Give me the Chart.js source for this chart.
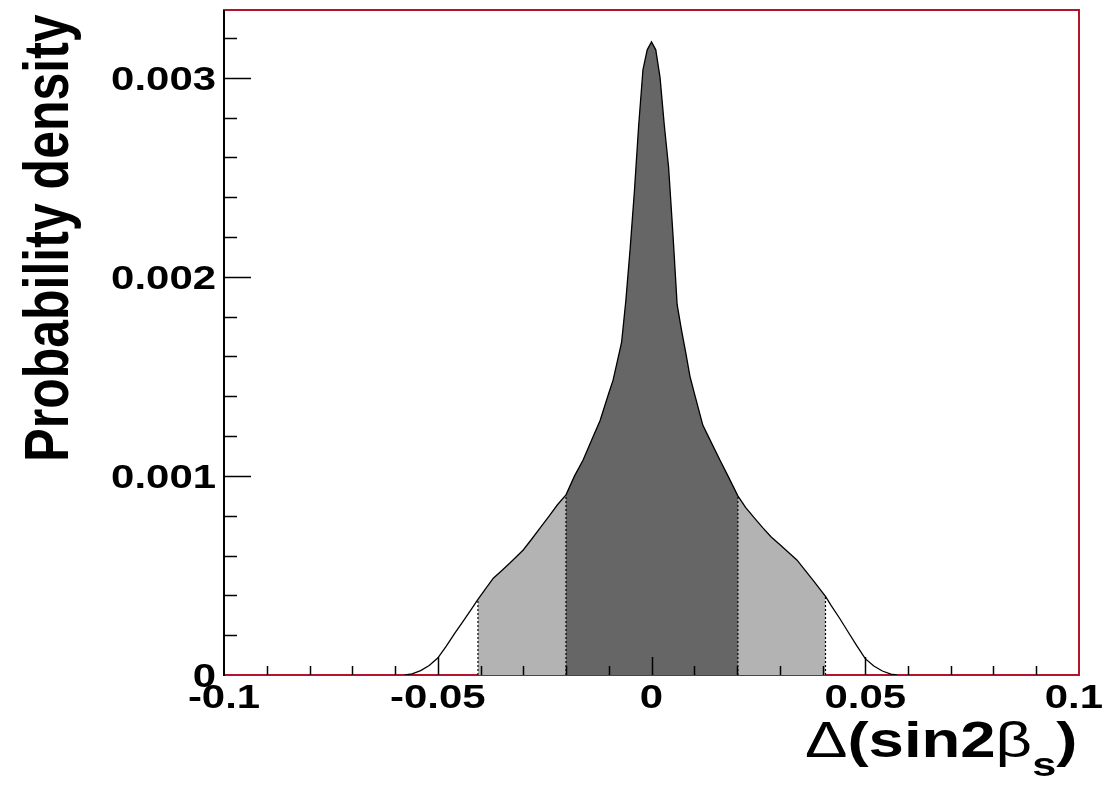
<!DOCTYPE html>
<html lang="en">
<head>
<meta charset="UTF-8" />
<title>Probability density of Δ(sin2βs)</title>
<script src="https://cdn.jsdelivr.net/npm/chart.js"></script>
<style>
  body { margin: 0; background: #ffffff; }
  #wrap { width: 1111px; height: 791px; }
</style>
</head>
<body>
<div id="wrap"><canvas id="pdf" width="1111" height="791"></canvas></div>
<script>
// curve: x = Δ(sin2βs), density in units of 1e-3
const deltaX = [
  -0.0577, -0.056, -0.054, -0.052, -0.050, -0.048, -0.046, -0.044, -0.042, -0.0406,
  -0.039, -0.037, -0.035, -0.033, -0.030, -0.028, -0.026, -0.024, -0.022, -0.020,
  -0.018, -0.016, -0.014, -0.012, -0.010, -0.009, -0.008, -0.007, -0.006, -0.005,
  -0.004, -0.003, -0.002, -0.001, 0, 0.001, 0.002, 0.003, 0.004, 0.005,
  0.006, 0.007, 0.008, 0.009, 0.010, 0.012, 0.014, 0.016, 0.018, 0.0202,
  0.022, 0.024, 0.026, 0.028, 0.030, 0.032, 0.034, 0.036, 0.038, 0.0407,
  0.042, 0.044, 0.046, 0.048, 0.050, 0.052, 0.054, 0.056, 0.0574
];
const density = [
  0, 0.006, 0.022, 0.048, 0.085, 0.145, 0.21, 0.272, 0.335, 0.38,
  0.427, 0.486, 0.525, 0.565, 0.628, 0.683, 0.74, 0.797, 0.855, 0.905,
  1.0, 1.08, 1.18, 1.28, 1.415, 1.48, 1.575, 1.67, 1.88, 2.14,
  2.43, 2.76, 3.04, 3.14, 3.18, 3.14, 3.0, 2.76, 2.55, 2.22,
  1.86, 1.735, 1.62, 1.5, 1.417, 1.255, 1.167, 1.08, 0.995, 0.9,
  0.842, 0.79, 0.74, 0.693, 0.655, 0.617, 0.578, 0.524, 0.47, 0.395,
  0.35, 0.285, 0.216, 0.148, 0.082, 0.045, 0.02, 0.004, 0
];

// shaded intervals (dark inner band, light outer band)
const innerBand = [-0.020, 0.0202];
const outerBand = [-0.0406, 0.0407];

const xTicks = [-0.1, -0.05, 0, 0.05, 0.1];
const xTickLabels = ['-0.1', '-0.05', '0', '0.05', '0.1'];
const yTicks = [0, 1, 2, 3];
const yTickLabels = ['0', '0.001', '0.002', '0.003'];

const points = deltaX.map((x, i) => ({ x: x, y: density[i] }));
function band(lo, hi) {
  return points.filter(p => p.x >= lo - 1e-9 && p.x <= hi + 1e-9);
}
function edge(x) {
  return [{ x: x, y: 0 }, { x: x, y: density[deltaX.indexOf(x)] }];
}

const FONT = '"Liberation Sans", Arial, Helvetica, sans-serif';
const STRETCH = 1.27; // the original picture is wider than tall

// ROOT-like frame: ticks inside, bold labels
const rootFrame = {
  id: 'rootFrame',
  beforeDatasetsDraw(chart) {
    const { ctx, chartArea: a } = chart;
    ctx.save();
    ctx.strokeStyle = '#b5132c';
    ctx.lineWidth = 2;
    ctx.strokeRect(a.left, a.top, a.right - a.left, a.bottom - a.top);
    ctx.restore();
  },
  afterDatasetsDraw(chart) {
    const { ctx, chartArea: a, scales } = chart;
    const xs = scales.x, ys = scales.y;
    ctx.save();
    ctx.strokeStyle = '#000';
    ctx.lineWidth = 2;
    ctx.beginPath();
    ctx.moveTo(a.left, a.top);
    ctx.lineTo(a.left, a.bottom + 1);
    ctx.stroke();

    // x ticks, minor every 0.01
    ctx.lineWidth = 1.5;
    for (let i = -9; i <= 9; i++) {
      const px = Math.round(xs.getPixelForValue(i / 100)) + 0.5;
      const len = i % 5 === 0 ? 18 : 9;
      ctx.beginPath();
      ctx.moveTo(px, a.bottom);
      ctx.lineTo(px, a.bottom - len);
      ctx.stroke();
    }
    // y ticks, minor every 0.0002
    for (let j = 1; j * 0.2 <= ys.max; j++) {
      const py = Math.round(ys.getPixelForValue(j * 0.2)) + 0.5;
      const len = j % 5 === 0 ? 27 : 13;
      ctx.beginPath();
      ctx.moveTo(a.left, py);
      ctx.lineTo(a.left + len, py);
      ctx.stroke();
    }

    ctx.fillStyle = '#000';
    ctx.font = 'bold 33px ' + FONT;
    ctx.textBaseline = 'alphabetic';

    // y tick labels
    ctx.textAlign = 'right';
    yTicks.forEach((v, i) => {
      const py = ys.getPixelForValue(v);
      ctx.save();
      ctx.translate(216, py + 12);
      ctx.scale(STRETCH, 1);
      ctx.fillText(yTickLabels[i], 0, 0);
      ctx.restore();
    });

    // x tick labels
    ctx.textAlign = 'center';
    xTicks.forEach((v, i) => {
      const w = ctx.measureText(xTickLabels[i]).width * STRETCH;
      let px = xs.getPixelForValue(v);
      if (px + w / 2 > 1103) px = 1103 - w / 2;
      ctx.save();
      ctx.translate(px, 708);
      ctx.scale(STRETCH, 1);
      ctx.fillText(xTickLabels[i], 0, 0);
      ctx.restore();
    });

    // y title
    ctx.save();
    ctx.font = 'bold 50px ' + FONT;
    ctx.translate(68, 238);
    ctx.scale(STRETCH, 1);
    ctx.rotate(-Math.PI / 2);
    ctx.textAlign = 'center';
    ctx.fillText('Probability density', 0, 0);
    ctx.restore();

    // x title: Δ(sin2β_s)
    ctx.save();
    ctx.translate(805, 757);
    ctx.scale(STRETCH, 1);
    ctx.textAlign = 'left';
    const parts = [
      ['Δ', '50px ' + FONT, 0],
      ['(sin2', 'bold 50px ' + FONT, 0],
      ['β', '50px ' + FONT, 0],
      ['s', 'bold 34px ' + FONT, 19],
      [')', 'bold 50px ' + FONT, 0]
    ];
    let cx = 0;
    parts.forEach(([t, f, dy]) => {
      ctx.font = f;
      ctx.fillText(t, cx, dy);
      cx += ctx.measureText(t).width;
    });
    ctx.restore();

    ctx.restore();
  }
};

const dotted = { borderColor: '#000', borderWidth: 1.2, borderDash: [2, 2], pointRadius: 0, fill: false, order: 1 };

new Chart(document.getElementById('pdf'), {
  type: 'line',
  data: {
    datasets: [
      { data: points, borderColor: '#000', borderWidth: 1.3, pointRadius: 0, fill: false, tension: 0, order: 0 },
      Object.assign({ data: edge(outerBand[0]) }, dotted),
      Object.assign({ data: edge(innerBand[0]) }, dotted),
      Object.assign({ data: edge(innerBand[1]) }, dotted),
      Object.assign({ data: edge(outerBand[1]) }, dotted),
      { data: band(innerBand[0], innerBand[1]), borderWidth: 0, pointRadius: 0, fill: 'origin', backgroundColor: '#666666', order: 2 },
      { data: band(outerBand[0], outerBand[1]), borderWidth: 0, pointRadius: 0, fill: 'origin', backgroundColor: '#b3b3b3', order: 3 }
    ]
  },
  options: {
    responsive: false,
    devicePixelRatio: 1,
    animation: false,
    layout: { padding: { left: 224, right: 32, top: 10, bottom: 116 } },
    plugins: { legend: { display: false }, tooltip: { enabled: false } },
    scales: {
      x: { type: 'linear', min: -0.1, max: 0.1, display: false },
      y: { type: 'linear', min: 0, max: 3.34, display: false }
    }
  },
  plugins: [rootFrame]
});
</script>
</body>
</html>
